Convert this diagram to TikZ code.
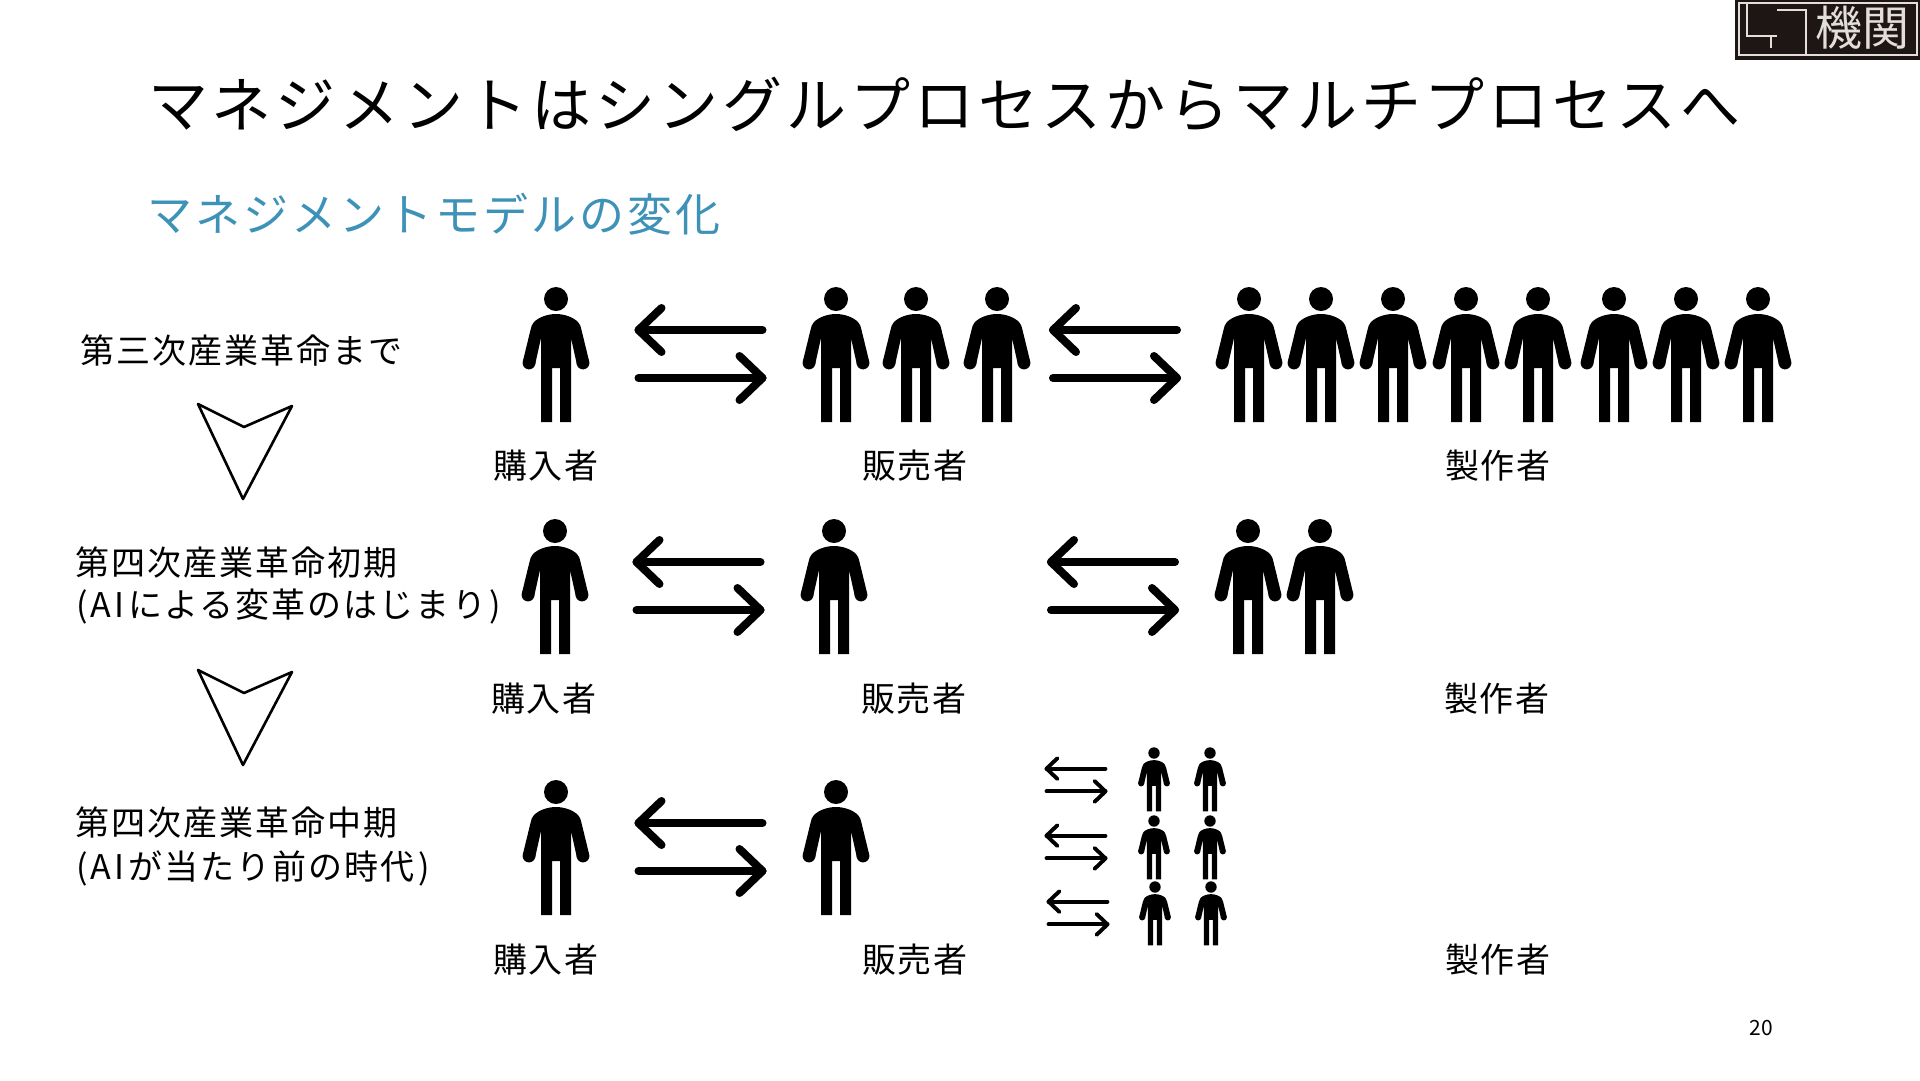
\documentclass[tikz,border=0pt]{standalone}
\usepackage{fontspec}
\newfontfamily\jp{Noto Sans CJK JP}
\newcommand{\lsp}[1]{\addfontfeature{LetterSpace=#1}}
\newcommand{\hw}[1]{\makebox[18.5pt][c]{#1}}
\definecolor{subblue}{HTML}{3E92B8}
\definecolor{logogray}{HTML}{E2DEDA}
\definecolor{logoblack}{HTML}{1E1614}
\tikzset{
  person/.pic={
    \fill (0,0) circle[radius=12];
    \fill (0,15) .. controls (-8,15) and (-17,18) .. (-22,23)
      .. controls (-24,25) and (-25,28) .. (-25.5,31)
      -- (-33.2,62.5) -- (-21,66) -- (-15,39) -- (-15,123) -- (-4,123) -- (-4,69)
      -- (4,69) -- (4,123) -- (15,123) -- (15,39) -- (21,66) -- (33.2,62.5)
      -- (25.5,31) .. controls (25,28) and (24,25) .. (22,23)
      .. controls (17,18) and (8,15) .. (0,15) -- cycle;
    \fill (-27,64) circle[radius=6.4];
    \fill (27,64) circle[radius=6.4];
  },
  twoarrows/.pic={
    \draw[line cap=round,line join=round] (62,-24) -- (-62,-24);
    \draw[line cap=round,line join=round] (-39,-46) -- (-62,-24) -- (-39,-2);
    \draw[line cap=round,line join=round] (-62,24) -- (62,24);
    \draw[line cap=round,line join=round] (39,2) -- (62,24) -- (39,46);
  },
  bigarrow/.style={line width=8pt},
  smallarrow/.style={line width=3.9pt},
  downarrow/.style={draw=black,line width=2.6pt,line join=round,fill=white},
  label/.style={font=\jp\fontsize{34}{38}\selectfont\lsp{6},anchor=west,inner sep=0pt},
  role/.style={font=\jp\fontsize{34}{38}\selectfont\lsp{4.5},anchor=center,inner sep=0pt},
  logoline/.style={draw=logogray,line width=2.1pt},
}
\begin{document}
\begin{tikzpicture}[x=1pt,y=-1pt]
\useasboundingbox (0,0) rectangle (1920,1080);
\fill[white] (0,0) rectangle (1920,1080);

% logo
\fill[logoblack] (1735,0) rectangle (1920,60);
\draw[logoline] (1739,3) rectangle (1917,55);
\draw[logoline] (1747,3) -- (1747,36) -- (1777,36);
\draw[logoline] (1771,36) -- (1771,48);
\draw[logoline] (1777,10) -- (1806,10) -- (1806,55);
\node[inner sep=0pt,text=logogray] (logotext) at (1862,28) {\jp\fontsize{47}{50}\selectfont 機関};

\node[anchor=west,inner sep=0pt] (title) at (148,104) {\jp\fontsize{60}{66}\selectfont\lsp{6.4}マネジメントはシングルプロセスからマルチプロセスへ};
\node[anchor=west,inner sep=0pt,text=subblue] (subtitle) at (147,214) {\jp\fontsize{45}{50}\selectfont\lsp{6.8}マネジメントモデルの変化};

% left labels
\node[label] (era1) at (80,351) {第三次産業革命まで};
\node[label] (era2) at (75,563) {第四次産業革命初期};
\node[label] (era2b) at (73,607) {\hw{(}\hw{A}\hw{I}による変革のはじまり\hw{)}};
\node[label] (era3) at (75,823) {第四次産業革命中期};
\node[label] (era3b) at (73,868) {\hw{(}\hw{A}\hw{I}が当たり前の時代\hw{)}};

% down arrows
\draw[downarrow] (198,404) -- (244,427) -- (292,406) -- (243,499) -- cycle;
\draw[downarrow] (198,670) -- (244,693) -- (292,672) -- (243,765) -- cycle;

% row 1
\foreach \px in {556,836,916,997,1249,1321,1393,1466,1538,1614,1686,1758}
  \pic at (\px,299) {person};
\pic[bigarrow] at (700.5,354) {twoarrows};
\pic[bigarrow] at (1115,354) {twoarrows};
\node[role] (buyer1) at (546,466) {購入者};
\node[role] (seller1) at (915,466) {販売者};
\node[role] (maker1) at (1498,466) {製作者};

% row 2
\foreach \px in {555,834,1248,1320}
  \pic at (\px,531) {person};
\pic[bigarrow] at (698.5,586) {twoarrows};
\pic[bigarrow] at (1113,586) {twoarrows};
\node[role] (buyer2) at (544,699) {購入者};
\node[role] (seller2) at (914,699) {販売者};
\node[role] (maker2) at (1497,699) {製作者};

% row 3
\foreach \px in {556,836}
  \pic at (\px,792) {person};
\pic[bigarrow] at (700.5,847) {twoarrows};
\node[role] (buyer3) at (546,960) {購入者};
\node[role] (seller3) at (915,960) {販売者};
\node[role] (maker3) at (1498,960) {製作者};

% small group
\pic[smallarrow,scale=.475] at (1076,780) {twoarrows};
\pic[smallarrow,scale=.475] at (1076,847) {twoarrows};
\pic[smallarrow,scale=.475] at (1078,913) {twoarrows};
\foreach \px/\py in {1154/753,1210/753,1154/821,1210/821,1155/887,1211/887}
  \pic[scale=.475] at (\px,\py) {person};

\node[inner sep=0pt] (pagenum) at (1761,1028) {\jp\fontsize{21}{24}\selectfont 20};
\end{tikzpicture}
\end{document}
